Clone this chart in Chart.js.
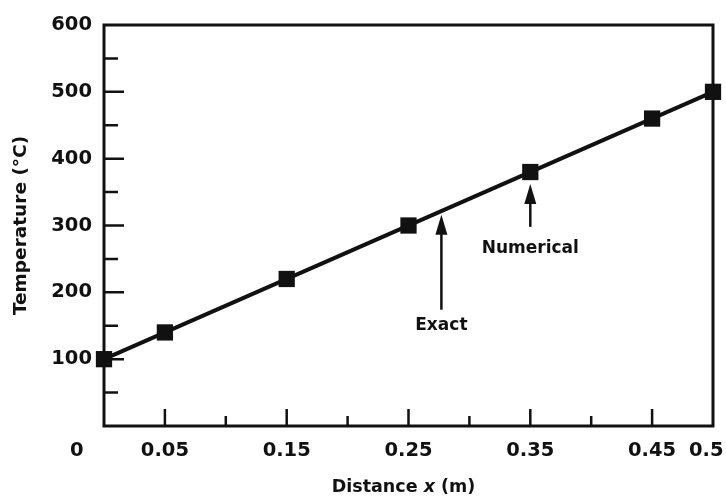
<!DOCTYPE html>
<html>
<head>
<meta charset="utf-8">
<script src="https://cdn.jsdelivr.net/npm/chart.js"></script>
<style>
  html, body { margin: 0; padding: 0; background: #fff; }
  #wrap { width: 726px; height: 503px; }
</style>
</head>
<body>
<div id="wrap"><canvas id="chart" width="726" height="503"></canvas></div>
<script>
// distance along the rod (m) and temperature (°C)
const xNumerical = [0, 0.05, 0.15, 0.25, 0.35, 0.45, 0.5];
const tNumerical = [100, 140, 220, 300, 380, 460, 500];
const xExact = [0, 0.5];
const tExact = [100, 500];

// axis ticks
const xTickLabels = [0, 0.05, 0.15, 0.25, 0.35, 0.45, 0.5];
const xMinorTicks = [0.1, 0.2, 0.3, 0.4];
const yTickLabels = [100, 200, 300, 400, 500, 600];
const yMinorTicks = [50, 150, 250, 350, 450, 550];

// arrows pointing at the two results (data units)
const arrowText = ['Exact', 'Numerical'];
const arrowX = [0.277, 0.35];
const arrowTip = [316, 362];
const arrowTail = [174, 298];
const arrowLabelY = [151, 265];

const INK = '#111';
Chart.defaults.font.family = '"DejaVu Sans", sans-serif';
Chart.defaults.font.weight = 'bold';
Chart.defaults.color = INK;

// frame, inward tick marks, arrows and the x title (with italic x)
const figurePlugin = {
    id: 'figure',
    beforeDatasetsDraw(chart) {
        const ctx = chart.ctx;
        const a = chart.chartArea;
        const xs = chart.scales.x, ys = chart.scales.y;
        ctx.save();
        ctx.strokeStyle = INK;
        ctx.lineWidth = 3;
        ctx.strokeRect(a.left, a.top, a.right - a.left, a.bottom - a.top);

        ctx.lineWidth = 2.5;
        ctx.beginPath();
        xTickLabels.forEach(v => {
            if (v <= xs.min || v >= xs.max) return;
            const px = xs.getPixelForValue(v);
            ctx.moveTo(px, a.bottom);
            ctx.lineTo(px, a.bottom - 17);
        });
        xMinorTicks.forEach(v => {
            const px = xs.getPixelForValue(v);
            ctx.moveTo(px, a.bottom);
            ctx.lineTo(px, a.bottom - 10);
        });
        yTickLabels.forEach(v => {
            if (v <= ys.min || v >= ys.max) return;
            const py = ys.getPixelForValue(v);
            ctx.moveTo(a.left, py);
            ctx.lineTo(a.left + 20, py);
        });
        yMinorTicks.forEach(v => {
            const py = ys.getPixelForValue(v);
            ctx.moveTo(a.left, py);
            ctx.lineTo(a.left + 14, py);
        });
        ctx.stroke();
        ctx.restore();
    },
    afterDatasetsDraw(chart) {
        const ctx = chart.ctx;
        const a = chart.chartArea;
        const xs = chart.scales.x, ys = chart.scales.y;
        ctx.save();
        ctx.strokeStyle = INK;
        ctx.fillStyle = INK;

        // arrows + their labels
        arrowText.forEach((txt, i) => {
            const px = xs.getPixelForValue(arrowX[i]);
            const tip = ys.getPixelForValue(arrowTip[i]);
            const tail = ys.getPixelForValue(arrowTail[i]);
            const headLen = 20, headW = 6;
            ctx.lineWidth = 2.5;
            ctx.beginPath();
            ctx.moveTo(px, tail);
            ctx.lineTo(px, tip + headLen - 2);
            ctx.stroke();
            ctx.beginPath();
            ctx.moveTo(px, tip);
            ctx.lineTo(px - headW, tip + headLen);
            ctx.lineTo(px + headW, tip + headLen);
            ctx.closePath();
            ctx.fill();

            ctx.font = 'bold 17px "DejaVu Sans", sans-serif';
            ctx.textAlign = 'center';
            ctx.textBaseline = 'middle';
            ctx.fillText(txt, px, ys.getPixelForValue(arrowLabelY[i]));
        });

        // x axis title: "Distance x (m)" with the x in italics
        const parts = [
            { t: 'Distance ', f: 'bold 17.5px "DejaVu Sans", sans-serif' },
            { t: 'x', f: 'italic bold 17.5px "DejaVu Sans", sans-serif' },
            { t: ' (m)', f: 'bold 17.5px "DejaVu Sans", sans-serif' }
        ];
        let total = 0;
        parts.forEach(p => { ctx.font = p.f; p.w = ctx.measureText(p.t).width; total += p.w; });
        let cx = (a.left + a.right) / 2 - 5 - total / 2;
        const cy = a.bottom + 61;
        ctx.textAlign = 'left';
        ctx.textBaseline = 'middle';
        parts.forEach(p => { ctx.font = p.f; ctx.fillText(p.t, cx, cy); cx += p.w; });
        ctx.restore();
    }
};

const ctx = document.getElementById('chart').getContext('2d');
new Chart(ctx, {
    type: 'scatter',
    data: {
        datasets: [
            {
                label: 'Exact',
                data: xExact.map((x, i) => ({ x: x, y: tExact[i] })),
                showLine: true,
                borderColor: INK,
                borderWidth: 4,
                pointRadius: 0,
                clip: false
            },
            {
                label: 'Numerical',
                data: xNumerical.map((x, i) => ({ x: x, y: tNumerical[i] })),
                showLine: false,
                pointStyle: 'rect',
                pointRadius: 11.5,
                backgroundColor: INK,
                borderColor: INK,
                borderWidth: 0,
                clip: false
            }
        ]
    },
    options: {
        responsive: false,
        animation: false,
        events: [],
        layout: { padding: { top: 25, right: 13, bottom: 0, left: 0 } },
        plugins: { legend: { display: false }, tooltip: { enabled: false } },
        scales: {
            x: {
                type: 'linear',
                min: 0,
                max: 0.5,
                border: { display: false },
                grid: { display: false, drawTicks: false },
                afterBuildTicks: scale => { scale.ticks = xTickLabels.map(v => ({ value: v })); },
                afterFit: scale => {
                    scale.height = 77;
                    scale.paddingLeft = 0;
                    scale.paddingRight = 0;
                },
                ticks: {
                    autoSkip: false,
                    maxRotation: 0,
                    padding: 13,
                    color: INK,
                    font: { size: 19.5, weight: 'bold' },
                    // the "0" sits in the corner, left of the axis; "0.5" pulled in a bit
                    callback: v => v === 0 ? '0        ' : (v === 0.5 ? '0.5  ' : String(v))
                }
            },
            y: {
                min: 0,
                max: 600,
                border: { display: false },
                grid: { display: false, drawTicks: false },
                afterBuildTicks: scale => { scale.ticks = yTickLabels.map(v => ({ value: v })); },
                afterFit: scale => {
                    scale.width = 104;
                    scale.paddingTop = 0;
                    scale.paddingBottom = 0;
                },
                ticks: {
                    padding: 12,
                    color: INK,
                    font: { size: 19.5, weight: 'bold' },
                    callback: v => String(v)
                },
                title: {
                    display: true,
                    text: 'Temperature (°C)',
                    color: INK,
                    font: { size: 18.5, weight: 'bold' },
                    padding: { top: 10, bottom: 0 }
                }
            }
        }
    },
    plugins: [figurePlugin]
});
</script>
</body>
</html>
